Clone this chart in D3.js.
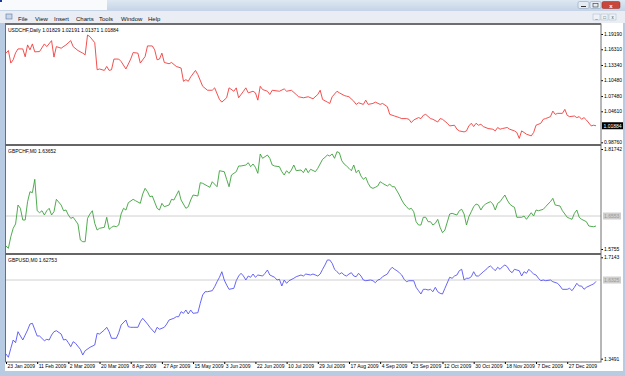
<!DOCTYPE html>
<html>
<head>
<meta charset="utf-8">
<script src="https://cdn.jsdelivr.net/npm/d3@7"></script>
<style>
  body { margin: 0; background: #b7cbe3; }
  svg { display: block; font-family: "Liberation Sans", Arial, sans-serif; }
  .axis text { font-size: 5px; fill: #000; }
  .axis line { stroke: #000; }
  .axis .domain { display: none; }
</style>
</head>
<body>
<svg id="chart" width="625" height="376"></svg>
<script>
// serie: [barra, chiusura]
const usdchf = [[0,1.1558],[1,1.1607],[2,1.1371],[3,1.1433],[4,1.1564],[5,1.1638],[7,1.1638],[8,1.1489],[9,1.1713],[10,1.1620],[11,1.1732],[12,1.1582],[14,1.1588],[16,1.1732],[17,1.1681],[19,1.1794],[20,1.1483],[21,1.1681],[23,1.1651],[25,1.1713],[27,1.1794],[28,1.1681],[30,1.1607],[32,1.1558],[33,1.1526],[34,1.1900],[35,1.1868],[37,1.1756],[38,1.1245],[39,1.1259],[41,1.1232],[42,1.1307],[43,1.1232],[44,1.1245],[45,1.1446],[47,1.1446],[48,1.1401],[50,1.1259],[52,1.1446],[53,1.1569],[55,1.1558],[56,1.1371],[58,1.1494],[59,1.1694],[61,1.1694],[62,1.1620],[63,1.1433],[64,1.1446],[65,1.1558],[66,1.1382],[68,1.1358],[69,1.1382],[71,1.1307],[73,1.1277],[74,1.1027],[75,1.1058],[76,1.1027],[77,1.1109],[79,1.1232],[80,1.1152],[82,1.0933],[84,1.0858],[86,1.0858],[87,1.0903],[89,1.0684],[90,1.0634],[92,1.0716],[93,1.0903],[95,1.0839],[96,1.0903],[97,1.0716],[99,1.0839],[100,1.0903],[101,1.0809],[103,1.0839],[104,1.0809],[105,1.0671],[106,1.0933],[107,1.0871],[109,1.0839],[110,1.0778],[111,1.0858],[114,1.0839],[116,1.0884],[117,1.0839],[119,1.0858],[121,1.0778],[122,1.0735],[124,1.0716],[126,1.0735],[128,1.0697],[130,1.0778],[131,1.0858],[132,1.0684],[134,1.0634],[135,1.0609],[136,1.0735],[138,1.0839],[139,1.0809],[141,1.0759],[142,1.0746],[143,1.0735],[145,1.0652],[146,1.0591],[147,1.0622],[149,1.0591],[150,1.0671],[151,1.0591],[153,1.0609],[154,1.0634],[156,1.0591],[157,1.0609],[159,1.0548],[160,1.0403],[162,1.0372],[164,1.0342],[165,1.0323],[167,1.0323],[168,1.0310],[169,1.0248],[170,1.0297],[172,1.0342],[173,1.0323],[174,1.0385],[175,1.0403],[177,1.0323],[178,1.0310],[180,1.0259],[181,1.0323],[182,1.0310],[184,1.0235],[185,1.0185],[187,1.0198],[188,1.0123],[189,1.0091],[191,1.0072],[192,1.0091],[193,1.0185],[194,1.0235],[195,1.0173],[196,1.0235],[197,1.0198],[198,1.0216],[199,1.0173],[201,1.0136],[203,1.0123],[204,1.0091],[205,1.0155],[206,1.0123],[207,1.0136],[209,1.0155],[210,1.0123],[212,1.0091],[213,1.0061],[214,0.9949],[215,1.0091],[216,1.0061],[217,1.0029],[219,0.9997],[220,1.0061],[221,1.0198],[223,1.0235],[224,1.0310],[225,1.0323],[227,1.0360],[228,1.0465],[229,1.0403],[230,1.0422],[232,1.0422],[233,1.0497],[234,1.0385],[235,1.0360],[237,1.0372],[238,1.0342],[239,1.0360],[240,1.0310],[241,1.0342],[242,1.0297],[244,1.0185],[245,1.0198],[246,1.0188]];

const gbpchf = [[0,1.5827],[1,1.5772],[2,1.6052],[3,1.6256],[4,1.6360],[5,1.6819],[6,1.6739],[7,1.6456],[8,1.6456],[9,1.6899],[10,1.7141],[11,1.7117],[12,1.7441],[13,1.6681],[14,1.6633],[15,1.6681],[16,1.6577],[17,1.6681],[18,1.6739],[19,1.6577],[20,1.6657],[21,1.6957],[23,1.6819],[24,1.6681],[25,1.6698],[26,1.6577],[27,1.6497],[28,1.6522],[30,1.6360],[31,1.5973],[32,1.5931],[33,1.5931],[34,1.6497],[35,1.6602],[36,1.6681],[37,1.6377],[38,1.6214],[39,1.6256],[41,1.6280],[42,1.6522],[43,1.6231],[44,1.6280],[45,1.6311],[46,1.6294],[47,1.6335],[48,1.6602],[49,1.6739],[50,1.6698],[51,1.6875],[53,1.6957],[54,1.6923],[56,1.6860],[57,1.7085],[58,1.7223],[59,1.7141],[60,1.7020],[61,1.7037],[63,1.6739],[64,1.6698],[65,1.6860],[66,1.6778],[68,1.6819],[69,1.6957],[70,1.6940],[72,1.7165],[73,1.6940],[75,1.6739],[76,1.6778],[77,1.6940],[78,1.7061],[80,1.7037],[81,1.7359],[82,1.7344],[84,1.7279],[85,1.7247],[86,1.7383],[88,1.7262],[89,1.7649],[91,1.7625],[92,1.7441],[93,1.7262],[94,1.7545],[96,1.7625],[97,1.7763],[98,1.7763],[100,1.7787],[101,1.7843],[102,1.7746],[103,1.7811],[104,1.7731],[105,1.7586],[106,1.8053],[107,1.7949],[109,1.8029],[110,1.7949],[111,1.7787],[112,1.7763],[114,1.7746],[115,1.7625],[116,1.7545],[117,1.7649],[118,1.7586],[119,1.7666],[120,1.7787],[121,1.7649],[123,1.7666],[124,1.7601],[125,1.7707],[126,1.7601],[127,1.7683],[129,1.7625],[130,1.7707],[132,1.7925],[133,1.7973],[134,1.8029],[135,1.8005],[136,1.8053],[137,1.7949],[138,1.8109],[139,1.8084],[140,1.7891],[141,1.7811],[142,1.7763],[143,1.7707],[144,1.7649],[145,1.7787],[146,1.7601],[147,1.7666],[148,1.7521],[149,1.7441],[150,1.7489],[151,1.7344],[152,1.7247],[153,1.7223],[154,1.7247],[155,1.7279],[156,1.7383],[157,1.7344],[159,1.7279],[160,1.7327],[161,1.7262],[162,1.7262],[164,1.7061],[165,1.6940],[166,1.6843],[167,1.6778],[168,1.6715],[169,1.6739],[170,1.6657],[171,1.6415],[172,1.6335],[173,1.6335],[174,1.6522],[175,1.6522],[176,1.6415],[177,1.6415],[178,1.6335],[179,1.6377],[180,1.6473],[181,1.6280],[182,1.6149],[183,1.6214],[185,1.6602],[186,1.6618],[188,1.6577],[189,1.6681],[190,1.6715],[191,1.6602],[192,1.6335],[193,1.6536],[194,1.6657],[195,1.6778],[196,1.6843],[197,1.6819],[198,1.6698],[199,1.6795],[200,1.6843],[201,1.6875],[202,1.6899],[203,1.6843],[204,1.6698],[205,1.6860],[206,1.6899],[207,1.6981],[208,1.7061],[209,1.6940],[210,1.6843],[211,1.6795],[212,1.6764],[213,1.6522],[215,1.6522],[216,1.6553],[217,1.6473],[218,1.6553],[219,1.6633],[220,1.6553],[221,1.6698],[222,1.6681],[224,1.6715],[225,1.6778],[226,1.6843],[227,1.6899],[228,1.6981],[229,1.6819],[231,1.6795],[232,1.6681],[234,1.6522],[235,1.6497],[236,1.6473],[237,1.6618],[238,1.6698],[239,1.6522],[240,1.6473],[242,1.6415],[243,1.6311],[245,1.6294],[246,1.6311]];

const gbpusd = [[0,1.3660],[1,1.3541],[2,1.3865],[3,1.4164],[4,1.4067],[5,1.4463],[7,1.4164],[8,1.4344],[9,1.4524],[10,1.4740],[11,1.4766],[13,1.4308],[14,1.4308],[16,1.4139],[17,1.4189],[18,1.4164],[19,1.4344],[20,1.4463],[21,1.4499],[23,1.4380],[24,1.4164],[25,1.4189],[26,1.4067],[27,1.3923],[28,1.4103],[29,1.4045],[31,1.3829],[32,1.3624],[33,1.3779],[35,1.3901],[37,1.3984],[38,1.4405],[39,1.4380],[41,1.4524],[42,1.4622],[43,1.4463],[44,1.4225],[46,1.4225],[47,1.4427],[48,1.4704],[50,1.4885],[51,1.4643],[52,1.4622],[53,1.4622],[55,1.4622],[56,1.4823],[57,1.4946],[59,1.4740],[60,1.4622],[61,1.4524],[62,1.4427],[63,1.4622],[64,1.4550],[66,1.4622],[67,1.4740],[68,1.4885],[70,1.4946],[71,1.5003],[72,1.5003],[73,1.5184],[74,1.5126],[75,1.5245],[76,1.5101],[77,1.5245],[78,1.5126],[80,1.5147],[81,1.5486],[82,1.5785],[83,1.5904],[84,1.5904],[86,1.5940],[87,1.6084],[88,1.6264],[89,1.6423],[90,1.6624],[91,1.6325],[92,1.6145],[93,1.5990],[95,1.6026],[96,1.6300],[97,1.6469],[98,1.6567],[99,1.6469],[100,1.6325],[101,1.6469],[102,1.6423],[103,1.6541],[104,1.6423],[105,1.6505],[107,1.6469],[108,1.6567],[109,1.6686],[110,1.6505],[112,1.6423],[113,1.6325],[114,1.6351],[115,1.6109],[116,1.6325],[117,1.6206],[118,1.6300],[120,1.6387],[121,1.6444],[123,1.6505],[124,1.6469],[125,1.6541],[127,1.6505],[128,1.6541],[130,1.6469],[131,1.6541],[132,1.6711],[133,1.6866],[134,1.7046],[135,1.7046],[136,1.6927],[137,1.6711],[138,1.6624],[139,1.6541],[140,1.6588],[141,1.6505],[142,1.6469],[143,1.6541],[144,1.6588],[145,1.6469],[146,1.6444],[147,1.6567],[148,1.6469],[149,1.6325],[150,1.6300],[152,1.6325],[153,1.6300],[154,1.6228],[155,1.6325],[156,1.6351],[157,1.6444],[159,1.6541],[160,1.6686],[161,1.6783],[162,1.6711],[163,1.6660],[164,1.6588],[165,1.6505],[166,1.6351],[167,1.6264],[168,1.6300],[170,1.6300],[171,1.6062],[172,1.5940],[173,1.5821],[174,1.5990],[175,1.5990],[176,1.5965],[177,1.5990],[178,1.5904],[179,1.6062],[180,1.5904],[181,1.5846],[182,1.5821],[183,1.6026],[185,1.6423],[186,1.6387],[187,1.6469],[188,1.6505],[189,1.6660],[190,1.6711],[191,1.6325],[192,1.6387],[193,1.6387],[194,1.6444],[195,1.6624],[196,1.6469],[197,1.6469],[198,1.6541],[199,1.6624],[200,1.6686],[201,1.6783],[202,1.6830],[203,1.6747],[204,1.6660],[205,1.6783],[206,1.6711],[207,1.6804],[208,1.6866],[209,1.6804],[210,1.6660],[211,1.6588],[212,1.6711],[214,1.6660],[215,1.6469],[216,1.6624],[217,1.6567],[218,1.6711],[219,1.6624],[220,1.6541],[221,1.6505],[222,1.6387],[223,1.6300],[224,1.6325],[225,1.6300],[227,1.6325],[228,1.6264],[230,1.6206],[231,1.6109],[232,1.5990],[234,1.5990],[235,1.6026],[236,1.5940],[237,1.6062],[238,1.6206],[239,1.6109],[240,1.6109],[241,1.5990],[242,1.6062],[244,1.6145],[245,1.6181],[246,1.6275]];

// etichette asse prezzi e asse date
const usdchfTicks = [1.19190, 1.16310, 1.13340, 1.10480, 1.07480, 1.04610, 0.98760];
const gbpchfTicks = [1.81742, 1.5755];
const gbpusdTicks = [1.7143, 1.3491];
const gbpchfLevel = 1.6553;
const gbpusdLevel = 1.6325;
const lastUsdchf = "1.01884";
const dateBars = [0, 13, 26, 39, 52, 65, 78, 91, 104, 117, 130, 143, 156, 169, 182, 195, 208, 221, 234];
const dateLabels = ["23 Jan 2009", "11 Feb 2009", "2 Mar 2009", "20 Mar 2009", "8 Apr 2009", "27 Apr 2009",
  "15 May 2009", "3 Jun 2009", "22 Jun 2009", "10 Jul 2009", "29 Jul 2009", "17 Aug 2009", "4 Sep 2009",
  "23 Sep 2009", "12 Oct 2009", "30 Oct 2009", "18 Nov 2009", "7 Dec 2009", "27 Dec 2009"];
const menuItems = ["File", "View", "Insert", "Charts", "Tools", "Window", "Help"];

const svg = d3.select("#chart");

//Cornice finestra
const grad = svg.append("defs").append("linearGradient").attr("id", "tb").attr("x1", 0).attr("x2", 0).attr("y1", 0).attr("y2", 1);
grad.append("stop").attr("offset", 0).attr("stop-color", "#dfe8f3");
grad.append("stop").attr("offset", 1).attr("stop-color", "#c3d3e6");
svg.append("rect").attr("width", 625).attr("height", 11).attr("fill", "url(#tb)");
svg.append("rect").attr("x", 0).attr("y", 0).attr("width", 107).attr("height", 10).attr("fill", "#f8fafc");
svg.append("rect").attr("x", 0).attr("y", 0).attr("width", 2).attr("height", 2).attr("fill", "#1a3a9a");

// pulsanti finestra
[[578, "#e4ebf3"], [590, "#e4ebf3"]].forEach(([bx, c]) => {
  svg.append("rect").attr("x", bx).attr("y", 1.5).attr("width", 11).attr("height", 7).attr("rx", 1.5)
    .attr("fill", c).attr("stroke", "#8196b3").attr("stroke-width", 0.5);
});
svg.append("rect").attr("x", 602).attr("y", 1.5).attr("width", 18).attr("height", 7).attr("rx", 1.5)
  .attr("fill", "#c9463a").attr("stroke", "#8a2a22").attr("stroke-width", 0.5);
svg.append("line").attr("x1", 581).attr("x2", 586).attr("y1", 6.5).attr("y2", 6.5).attr("stroke", "#333");
svg.append("rect").attr("x", 593).attr("y", 3.5).attr("width", 5).attr("height", 3.5).attr("fill", "none").attr("stroke", "#333").attr("stroke-width", 0.6);
svg.append("text").attr("x", 611).attr("y", 7.5).attr("text-anchor", "middle").attr("font-size", 6).attr("font-weight", "bold").attr("fill", "#fff").text("x");

// barra menu
svg.append("rect").attr("x", 0).attr("y", 11).attr("width", 625).attr("height", 12).attr("fill", "#eaeef4");
svg.append("rect").attr("x", 6).attr("y", 14).attr("width", 6).attr("height", 5).attr("fill", "#c9d6e8").attr("stroke", "#5a76a0").attr("stroke-width", 0.6);
const menuX = [18, 35, 54, 76, 99, 121, 148];
svg.append("g").selectAll("text").data(menuItems).join("text")
  .attr("x", (d, i) => menuX[i]).attr("y", 20.5)
  .attr("font-size", 6).attr("fill", "#111").text(d => d);
[593, 601, 609].forEach((bx, i) => {
  svg.append("rect").attr("x", bx).attr("y", 14).attr("width", 7).attr("height", 6)
    .attr("fill", "#eef2f7").attr("stroke", "#a8b6c8").attr("stroke-width", 0.5);
  svg.append("text").attr("x", bx + 3.5).attr("y", 19).attr("text-anchor", "middle")
    .attr("font-size", 4.5).attr("fill", "#444").text(["_", "\u25A1", "x"][i]);
});

//Area grafico
svg.append("rect").attr("x", 5).attr("y", 23).attr("width", 618).attr("height", 348).attr("fill", "#ffffff");

const plotLeft = 6, plotRight = 601;
const panes = [
  { top: 25, bottom: 144, data: usdchf, color: "#f23c3c", domain: [0.98760, 1.19190], range: [142.3, 34],
    ticks: usdchfTicks, fmt: d => d.toFixed(5), title: "USDCHF,Daily  1.01829 1.02191 1.01371 1.01884" },
  { top: 146, bottom: 253, data: gbpchf, color: "#3da23d", domain: [1.5755, 1.81742], range: [249, 149],
    ticks: gbpchfTicks, fmt: d => String(d), title: "GBPCHF,M0 1.63652", level: gbpchfLevel },
  { top: 255, bottom: 362, data: gbpusd, color: "#5555f5", domain: [1.3491, 1.7143], range: [358.7, 257.3],
    ticks: gbpusdTicks, fmt: d => String(d), title: "GBPUSD,M0 1.62753", level: gbpusdLevel }
];

const x = d3.scaleLinear().domain([0, 246]).range([plotLeft, 596]);

panes.forEach((p, k) => {
  const y = d3.scaleLinear().domain(p.domain).range(p.range);
  const clipId = "clip" + k;
  svg.append("clipPath").attr("id", clipId).append("rect")
    .attr("x", plotLeft).attr("y", p.top).attr("width", plotRight - plotLeft).attr("height", p.bottom - p.top);

  if (p.level !== undefined) {
    svg.append("line").attr("x1", plotLeft).attr("x2", plotRight)
      .attr("y1", y(p.level)).attr("y2", y(p.level)).attr("stroke", "#c4c4c4").attr("stroke-width", 0.8);
    svg.append("rect").attr("x", 603).attr("y", y(p.level) - 3.5).attr("width", 18).attr("height", 7).attr("fill", "#cfcfcf");
    svg.append("text").attr("x", 604).attr("y", y(p.level) + 1.7).attr("font-size", 5).attr("fill", "#9a9a9a")
      .text(p.level.toFixed(4));
  }

  svg.append("path").datum(p.data)
    .attr("clip-path", `url(#${clipId})`)
    .attr("fill", "none").attr("stroke", p.color).attr("stroke-width", 0.9)
    .attr("d", d3.line().x(d => x(d[0])).y(d => y(d[1])));

  svg.append("g").attr("class", "axis").attr("transform", `translate(${plotRight},0)`)
    .call(d3.axisRight(y).tickValues(p.ticks).tickSize(2).tickPadding(1).tickFormat(p.fmt));

  svg.append("text").attr("x", 8).attr("y", p.top + 6.5).attr("font-size", 5).attr("fill", "#000").text(p.title);

  if (k === 0) {
    const yl = y(+lastUsdchf);
    svg.append("rect").attr("x", 602).attr("y", yl - 3.5).attr("width", 21).attr("height", 7).attr("fill", "#000");
    svg.append("text").attr("x", 603.5).attr("y", yl + 1.8).attr("font-size", 5).attr("fill", "#fff").text(lastUsdchf);
  }
});

//Bordi e separatori
svg.append("rect").attr("x", 5.5).attr("y", 24).attr("width", plotRight - 5.5).attr("height", 338)
  .attr("fill", "none").attr("stroke", "#6e6e6e").attr("stroke-width", 1);
svg.append("line").attr("x1", 5).attr("x2", plotRight).attr("y1", 24).attr("y2", 24).attr("stroke", "#6e6e6e").attr("stroke-width", 2);
[145, 254].forEach(sy => {
  svg.append("line").attr("x1", 5).attr("x2", plotRight).attr("y1", sy).attr("y2", sy)
    .attr("stroke", "#666").attr("stroke-width", 2);
});

//Asse date
const xAxis = svg.append("g").attr("class", "axis").attr("transform", "translate(0,362)")
  .call(d3.axisBottom(x).tickValues(dateBars).tickSize(2).tickPadding(1).tickFormat((d, i) => dateLabels[i]));
xAxis.selectAll("text").attr("text-anchor", "start").attr("dx", 1).attr("dy", "0.6em");
</script>
</body>
</html>
